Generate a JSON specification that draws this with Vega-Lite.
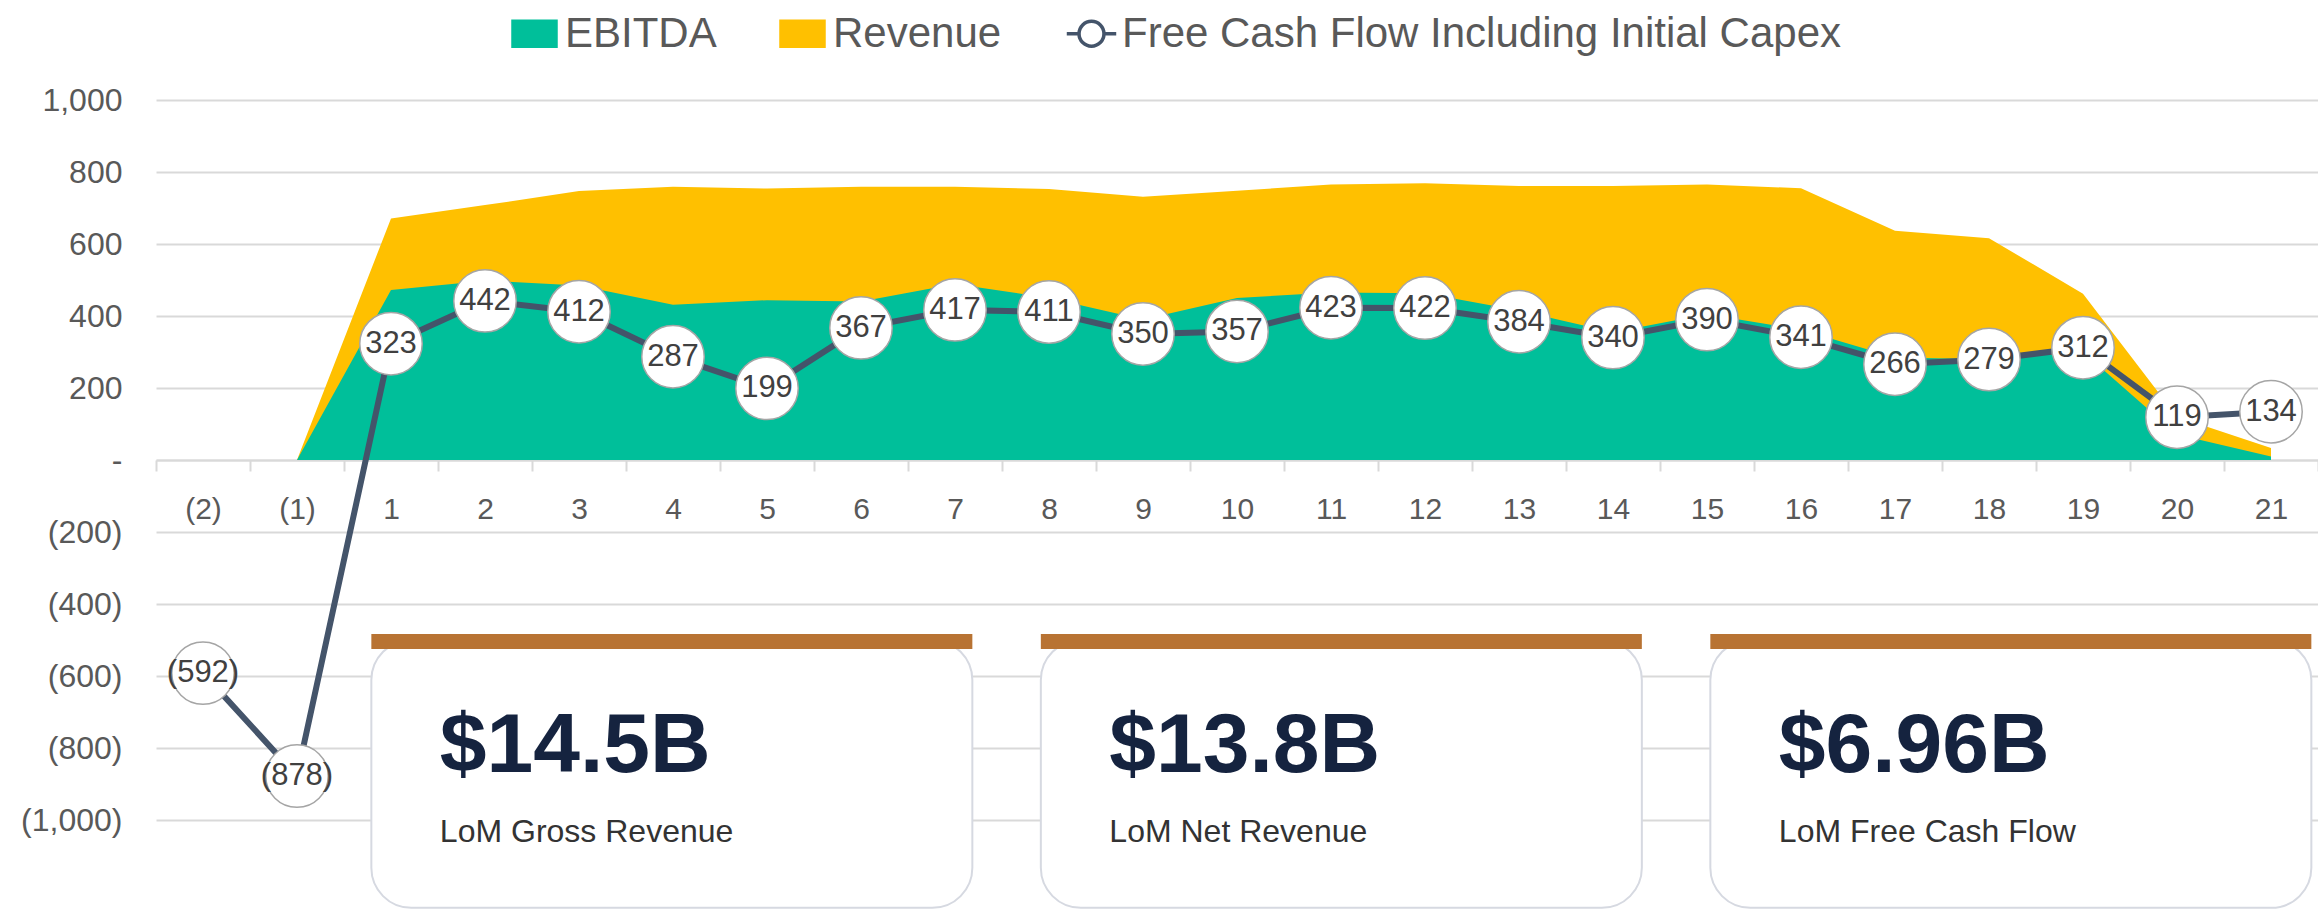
{
  "$schema": "https://vega.github.io/schema/vega-lite/v6.json",
  "width": 2162,
  "height": 720,
  "autosize": {"type": "none"},
  "padding": {"left": 156, "top": 100, "right": 0, "bottom": 91},
  "background": "white",
  "config": {"view": {"stroke": null}, "font": "Liberation Sans"},
  "datasets": {
    "main": [
      {"period": "(2)", "revenue": null, "ebitda": null, "fcf": -592},
      {"period": "(1)", "revenue": 0, "ebitda": 0, "fcf": -878},
      {"period": "1", "revenue": 671, "ebitda": 472, "fcf": 323},
      {"period": "2", "revenue": 708, "ebitda": 498, "fcf": 442},
      {"period": "3", "revenue": 747, "ebitda": 485, "fcf": 412},
      {"period": "4", "revenue": 759, "ebitda": 431, "fcf": 287},
      {"period": "5", "revenue": 754, "ebitda": 444, "fcf": 199},
      {"period": "6", "revenue": 759, "ebitda": 440, "fcf": 367},
      {"period": "7", "revenue": 759, "ebitda": 489, "fcf": 417},
      {"period": "8", "revenue": 753, "ebitda": 450, "fcf": 411},
      {"period": "9", "revenue": 731, "ebitda": 390, "fcf": 350},
      {"period": "10", "revenue": 748, "ebitda": 450, "fcf": 357},
      {"period": "11", "revenue": 765, "ebitda": 465, "fcf": 423},
      {"period": "12", "revenue": 769, "ebitda": 463, "fcf": 422},
      {"period": "13", "revenue": 761, "ebitda": 415, "fcf": 384},
      {"period": "14", "revenue": 761, "ebitda": 355, "fcf": 340},
      {"period": "15", "revenue": 765, "ebitda": 405, "fcf": 390},
      {"period": "16", "revenue": 755, "ebitda": 362, "fcf": 341},
      {"period": "17", "revenue": 637, "ebitda": 285, "fcf": 266},
      {"period": "18", "revenue": 616, "ebitda": 280, "fcf": 279},
      {"period": "19", "revenue": 462, "ebitda": 300, "fcf": 312},
      {"period": "20", "revenue": 120, "ebitda": 71, "fcf": 119},
      {"period": "21", "revenue": 33, "ebitda": 10, "fcf": 134}
    ],
    "cards": [
      {"card": "gross", "value": "$14.5B", "label": "LoM Gross Revenue"},
      {"card": "net", "value": "$13.8B", "label": "LoM Net Revenue"},
      {"card": "fcf", "value": "$6.96B", "label": "LoM Free Cash Flow"}
    ]
  },
  "layer": [
    {
      "data": {"name": "main"},
      "encoding": {
        "x": {
          "field": "period",
          "type": "ordinal",
          "scale": {
            "type": "band",
            "domain": ["(2)", "(1)", "1", "2", "3", "4", "5", "6", "7", "8", "9", "10", "11", "12", "13", "14", "15", "16", "17", "18", "19", "20", "21"],
            "paddingInner": 0,
            "paddingOuter": 0
          },
          "axis": {
            "orient": "bottom",
            "offset": -360,
            "title": null,
            "tickBand": "extent",
            "ticks": true,
            "tickSize": 11,
            "tickColor": "#D9D9D9",
            "tickWidth": 2,
            "domain": true,
            "domainColor": "#D9D9D9",
            "domainWidth": 2,
            "grid": false,
            "labelAngle": 0,
            "labelFontSize": 30,
            "labelColor": "#595959",
            "labelPadding": 23
          }
        }
      },
      "layer": [
        {
          "mark": {"type": "area", "opacity": 1},
          "encoding": {
            "y": {
              "field": "revenue",
              "type": "quantitative",
              "scale": {"domain": [-1000, 1000], "nice": false, "zero": false},
              "axis": {
                "title": null,
                "values": [-1000, -800, -600, -400, -200, 0, 200, 400, 600, 800, 1000],
                "labelExpr": "datum.value === 0 ? '-\u00a0' : datum.value < 0 ? '(' + format(-datum.value, ',') + ')' : format(datum.value, ',') + '\u00a0'",
                "grid": true,
                "gridColor": "#D9D9D9",
                "gridWidth": 2,
                "domain": false,
                "ticks": false,
                "labelFontSize": 32,
                "labelColor": "#595959",
                "labelPadding": 34
              }
            },
            "color": {
              "datum": "Revenue",
              "type": "nominal",
              "scale": {
                "domain": ["EBITDA", "Revenue", "Free Cash Flow Including Initial Capex"],
                "range": ["#00BF9A", "#FFC000", "#44546A"]
              },
              "legend": {
                "orient": "none",
                "legendX": 355,
                "legendY": -90,
                "direction": "horizontal",
                "title": null,
                "labelFontSize": 42,
                "labelColor": "#595959",
                "labelLimit": 1200,
                "symbolSize": 1849,
                "labelOffset": 7,
                "columnPadding": 57,
                "symbolOpacity": 1,
                "encode": {
                  "symbols": {
                    "update": {
                      "shape": {"signal": "datum.value === 'Free Cash Flow Including Initial Capex' ? 'M-1.15,0H-0.58M0.58,0H1.15M-0.58,0A0.58,0.58 0 1,0 0.58,0A0.58,0.58 0 1,0 -0.58,0Z' : 'M-1,-0.58H1V0.58H-1Z'"},
                      "fill": {"signal": "datum.value === 'Free Cash Flow Including Initial Capex' ? '#ffffff' : scale('color', datum.value)"},
                      "fillOpacity": {"signal": "datum.value === 'Free Cash Flow Including Initial Capex' ? 0 : 1"},
                      "stroke": {"signal": "datum.value === 'Free Cash Flow Including Initial Capex' ? '#44546A' : 'transparent'"},
                      "strokeWidth": {"value": 3.5},
                      "opacity": {"value": 1}
                    }
                  }
                }
              }
            }
          }
        },
        {
          "mark": {"type": "area", "opacity": 1},
          "encoding": {
            "y": {"field": "ebitda", "type": "quantitative", "scale": {"domain": [-1000, 1000], "nice": false, "zero": false}},
            "color": {"datum": "EBITDA", "type": "nominal"}
          }
        },
        {
          "mark": {"type": "line", "strokeWidth": 6},
          "encoding": {
            "y": {"field": "fcf", "type": "quantitative", "scale": {"domain": [-1000, 1000], "nice": false, "zero": false}},
            "color": {"datum": "Free Cash Flow Including Initial Capex", "type": "nominal"}
          }
        },
        {
          "mark": {"type": "point", "filled": true, "fill": "#FFFFFF", "stroke": "#A5A5A5", "strokeWidth": 1.5, "size": 3900, "opacity": 1},
          "encoding": {
            "y": {"field": "fcf", "type": "quantitative", "scale": {"domain": [-1000, 1000], "nice": false, "zero": false}}
          }
        },
        {
          "mark": {"type": "text", "fontSize": 31, "color": "#404040", "align": "center", "baseline": "middle"},
          "encoding": {
            "y": {"field": "fcf", "type": "quantitative", "scale": {"domain": [-1000, 1000], "nice": false, "zero": false}},
            "text": {"field": "fcf", "type": "quantitative", "format": "(.0f"}
          }
        }
      ]
    },
    {
      "data": {"name": "cards"},
      "encoding": {
        "x": {
          "field": "card",
          "type": "nominal",
          "scale": {"type": "band", "domain": ["gross", "net", "fcf"], "paddingInner": 0.1023, "paddingOuter": 0.1658, "align": 0.97},
          "axis": null
        }
      },
      "layer": [
        {
          "mark": {"type": "rect", "fill": "#FFFFFF", "stroke": "#D6D9E1", "strokeWidth": 2, "cornerRadius": 40},
          "encoding": {
            "y": {"datum": -500, "type": "quantitative", "scale": {"domain": [-1000, 1000], "nice": false, "zero": false}},
            "y2": {"datum": -1244}
          }
        },
        {
          "mark": {"type": "rect", "fill": "#B87333"},
          "encoding": {
            "y": {"datum": -483, "type": "quantitative", "scale": {"domain": [-1000, 1000], "nice": false, "zero": false}},
            "y2": {"datum": -525}
          }
        },
        {
          "mark": {"type": "text", "fontSize": 84, "fontWeight": "bold", "color": "#15233F", "align": "left", "baseline": "alphabetic"},
          "encoding": {
            "x": {"field": "card", "type": "nominal", "bandPosition": 0.114, "scale": {"type": "band", "domain": ["gross", "net", "fcf"], "paddingInner": 0.1023, "paddingOuter": 0.1658, "align": 0.97}, "axis": null},
            "y": {"datum": -867, "type": "quantitative", "scale": {"domain": [-1000, 1000], "nice": false, "zero": false}},
            "text": {"field": "value", "type": "nominal"}
          }
        },
        {
          "mark": {"type": "text", "fontSize": 32, "color": "#333333", "align": "left", "baseline": "alphabetic"},
          "encoding": {
            "x": {"field": "card", "type": "nominal", "bandPosition": 0.114, "scale": {"type": "band", "domain": ["gross", "net", "fcf"], "paddingInner": 0.1023, "paddingOuter": 0.1658, "align": 0.97}, "axis": null},
            "y": {"datum": -1061, "type": "quantitative", "scale": {"domain": [-1000, 1000], "nice": false, "zero": false}},
            "text": {"field": "label", "type": "nominal"}
          }
        }
      ]
    }
  ],
  "resolve": {"scale": {"x": "independent"}, "axis": {"x": "independent"}}
}
